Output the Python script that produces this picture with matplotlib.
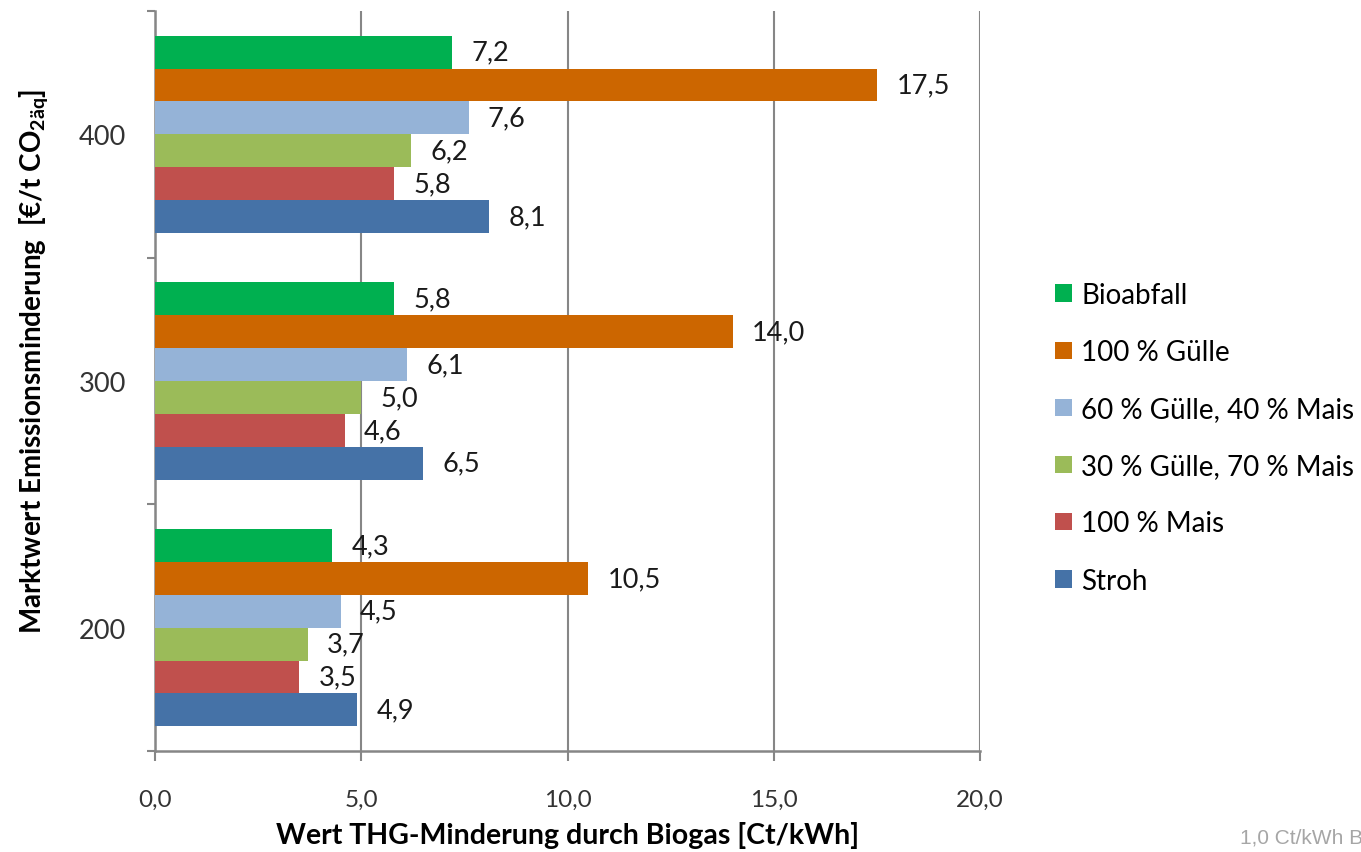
import numpy as np
import matplotlib
matplotlib.use("Agg")
import matplotlib.pyplot as plt

plt.rcParams['font.family'] = ['Lato', 'DejaVu Sans']
plt.rcParams['mathtext.default'] = 'regular'

# categories (y axis) and series, bottom-to-top drawing order
categories = ['200', '300', '400']
series = ['Stroh', '100 % Mais', '30 % Gülle, 70 % Mais',
          '60 % Gülle, 40 % Mais', '100 % Gülle', 'Bioabfall']
colors = ['#4572A7', '#C0504D', '#9BBB59', '#95B3D7', '#CC6600', '#00B050']

stroh = [4.9, 6.5, 8.1]
mais = [3.5, 4.6, 5.8]
guelle30 = [3.7, 5.0, 6.2]
guelle60 = [4.5, 6.1, 7.6]
guelle100 = [10.5, 14.0, 17.5]
bioabfall = [4.3, 5.8, 7.2]
values = [stroh, mais, guelle30, guelle60, guelle100, bioabfall]

fig = plt.figure(figsize=(13.61, 8.53), dpi=100)
ax = fig.add_axes([155/1361, 1 - 752/853, 825/1361, 740/853])

grey = '#868686'
n = len(series)
h = 0.8 / n
y = np.arange(len(categories))
for i, (name, vals, col) in enumerate(zip(series, values, colors)):
    pos = y - 0.4 + h/2 + i*h
    bars = ax.barh(pos, vals, height=h, color=col, label=name, zorder=3)
    ax.bar_label(bars, labels=[f"{v:.1f}".replace('.', ',') for v in vals],
                 padding=14, fontsize=19.5, color='#1a1a1a')

ax.set_xlim(0, 20)
ax.set_ylim(-0.5, 2.5)
ax.set_xticks([0, 5, 10, 15, 20])
ax.set_xticklabels(['0,0', '5,0', '10,0', '15,0', '20,0'], fontsize=17.5, color='#333333')
ax.set_yticks(y)
ax.set_yticklabels(categories, fontsize=19.5, color='#333333')
ax.set_yticks([-0.5, 0.5, 1.5, 2.5], minor=True)
ax.tick_params(axis='y', which='major', length=0, pad=21)
ax.tick_params(axis='y', which='minor', length=6, width=1.5, color=grey)
ax.tick_params(axis='x', which='major', length=7, width=1.5, color=grey, pad=20)

ax.grid(axis='x', color=grey, linewidth=1.5, zorder=0)
for s in ['top', 'right']:
    ax.spines[s].set_visible(False)
for s in ['left', 'bottom']:
    ax.spines[s].set_color(grey)
    ax.spines[s].set_linewidth(1.8)

ax.set_xlabel('Wert THG-Minderung durch Biogas [Ct/kWh]', fontsize=20.5,
              fontweight='bold')
ax.xaxis.set_label_coords(0.5, -0.094)
ax.set_ylabel('Marktwert Emissionsminderung  [€/t CO$_{2äq}$]', fontsize=20,
              fontweight='bold')
ax.yaxis.set_label_coords(-0.127, 0.528)

handles, labels = ax.get_legend_handles_labels()
fig.legend(handles[::-1], labels[::-1], loc='upper left',
           bbox_to_anchor=(1055/1361, 1 - 283/853), frameon=False,
           borderpad=0, borderaxespad=0,
           fontsize=20, handlelength=0.6, handleheight=0.6,
           handletextpad=0.35, labelspacing=1.12)

fig.text(1240/1361, 1 - 838/853, '1,0 Ct/kWh B', fontsize=15,
         color='#A6A6A6', family='Liberation Sans', va='center')

fig.savefig('out.png', dpi=100)
